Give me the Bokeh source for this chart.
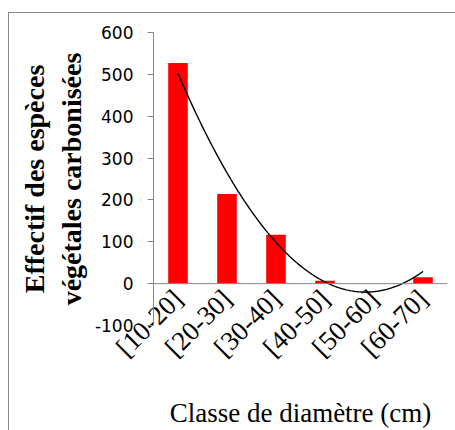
import numpy as np
from bokeh.plotting import figure
from bokeh.models import FactorRange, Range1d, FixedTicker, Span
from bokeh.embed import file_html
from bokeh.resources import INLINE

categories = ["[10-20]", "[20-30]", "[30-40]", "[40-50]", "[50-60]", "[60-70]"]
counts = [527, 214, 117, 7, 0, 15]
y_ticks = [-100, 0, 100, 200, 300, 400, 500, 600]

# order-2 polynomial trendline fitted on the data (as in the original spreadsheet)
idx = np.arange(1, len(counts) + 1)
coef = np.polyfit(idx, counts, 2)
xs = np.linspace(1, len(counts), 200)
ys = np.polyval(coef, xs)

p = figure(width=455, height=430, output_backend="svg", toolbar_location=None,
           x_range=FactorRange(*categories, range_padding=0),
           y_range=Range1d(-100, 600),
           min_border_left=153, min_border_right=8, min_border_top=32, min_border_bottom=104)
p.outline_line_color = None
p.grid.grid_line_color = None
p.background_fill_color = "white"
p.border_fill_color = None
# chart-area frame: only its left and top edges are inside the crop
p.styles = {"box-shadow": "inset 8px 12px 0 0 #ffffff, inset 9px 13px 0 0 #8a8a8a",
            "background-color": "#ffffff"}

p.add_layout(Span(location=0, dimension="width", line_color="#868686", line_width=1))
p.vbar(x=categories, top=counts, width=0.4, fill_color="#FF0000", line_color=None)
p.line(xs - 0.5, ys, line_color="black", line_width=1.4)

ya = p.yaxis[0]
ya.ticker = FixedTicker(ticks=y_ticks)
ya.major_label_overrides = {t: str(t) for t in y_ticks}
ya.axis_line_color = "#868686"
ya.major_tick_line_color = "#868686"
ya.major_tick_in = 0
ya.major_tick_out = 6
ya.minor_tick_line_color = None
ya.major_label_text_font = "DejaVu Sans"
ya.major_label_text_font_size = "17px"
ya.major_label_text_color = "black"
ya.major_label_standoff = 14
ya.axis_label = "Effectif des espèces\nvégétales carbonisées"
ya.axis_label_text_font = "Liberation Serif"
ya.axis_label_text_font_style = "bold"
ya.axis_label_text_font_size = "28px"
ya.axis_label_text_color = "black"
ya.axis_label_standoff = 5

xa = p.xaxis[0]
xa.axis_line_color = None
xa.major_tick_line_color = None
xa.minor_tick_line_color = None
xa.major_label_orientation = np.pi / 4
xa.major_label_text_font = "Liberation Serif"
xa.major_label_text_font_size = "27px"
xa.major_label_text_color = "black"
xa.major_label_standoff = -37
xa.axis_label = "Classe de diamètre (cm)"
xa.axis_label_text_font = "Liberation Serif"
xa.axis_label_text_font_style = "normal"
xa.axis_label_text_font_size = "27px"
xa.axis_label_text_color = "black"
xa.axis_label_standoff = 22

open("out.html", "w").write(file_html(p, INLINE))
